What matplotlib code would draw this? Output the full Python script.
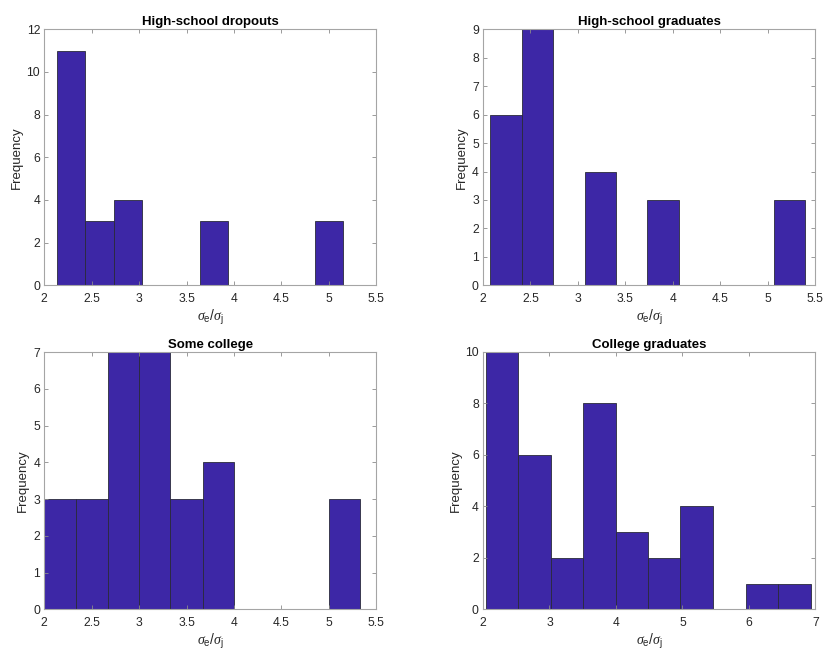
import matplotlib
matplotlib.use('Agg')
import matplotlib.pyplot as plt
from matplotlib.ticker import FuncFormatter

plt.rcParams['font.family'] = ['Liberation Sans', 'DejaVu Sans']
plt.rcParams['mathtext.fontset'] = 'custom'
plt.rcParams['mathtext.rm'] = 'Liberation Sans'
plt.rcParams['mathtext.it'] = 'Liberation Serif:italic'

# bin edges and counts per group
titles = ['High-school dropouts', 'High-school graduates', 'Some college', 'College graduates']

edges_dropouts = [2.13, 2.43, 2.73, 3.03, 3.34, 3.64, 3.94, 4.24, 4.54, 4.85, 5.15]
counts_dropouts = [11, 3, 4, 0, 0, 3, 0, 0, 0, 3]

edges_hsgrad = [2.07, 2.41, 2.74, 3.07, 3.40, 3.73, 4.06, 4.40, 4.73, 5.06, 5.39]
counts_hsgrad = [6, 9, 0, 4, 0, 3, 0, 0, 0, 3]

edges_somecol = [2.00, 2.33, 2.67, 3.00, 3.33, 3.67, 4.00, 4.33, 4.67, 5.00, 5.33]
counts_somecol = [3, 3, 7, 7, 3, 4, 0, 0, 0, 3]

edges_colgrad = [2.05, 2.53, 3.02, 3.51, 4.00, 4.49, 4.97, 5.46, 5.95, 6.44, 6.93]
counts_colgrad = [10, 6, 2, 8, 3, 2, 4, 0, 1, 1]

xlims = [(2, 5.5), (2, 5.5), (2, 5.5), (2, 7)]
ylims = [12, 9, 7, 10]
yticks = [range(0, 13, 2), range(0, 10), range(0, 8), range(0, 11, 2)]
xticks = [[2, 2.5, 3, 3.5, 4, 4.5, 5, 5.5]] * 3 + [[2, 3, 4, 5, 6, 7]]

all_edges = [edges_dropouts, edges_hsgrad, edges_somecol, edges_colgrad]
all_counts = [counts_dropouts, counts_hsgrad, counts_somecol, counts_colgrad]

W, H = 826, 654
fig = plt.figure(figsize=(W / 100, H / 100), dpi=100)

# axes boxes in pixels: left, top, right, bottom
boxes = [(44.3, 29.3, 376.3, 285.3),
         (483.0, 29.3, 815.3, 285.3),
         (44.3, 352.0, 376.3, 609.3),
         (483.0, 352.0, 815.3, 609.3)]
ylab_off = [-27, -21.3, -21.3, -27.3]  # px left of the axes

fmt = FuncFormatter(lambda v, p: '%g' % v)

for i in range(4):
    l, t, r, b = boxes[i]
    ax = fig.add_axes([l / W, 1 - b / H, (r - l) / W, (b - t) / H])
    e = all_edges[i]
    c = all_counts[i]
    widths = [e[k + 1] - e[k] for k in range(len(c))]
    ax.bar(e[:-1], c, width=widths, align='edge', color='#3d27a6',
           edgecolor='#2a2a3a', linewidth=0.6)
    ax.set_xlim(*xlims[i])
    ax.set_ylim(0, ylims[i])
    ax.set_xticks(xticks[i])
    ax.set_yticks(list(yticks[i]))
    ax.xaxis.set_major_formatter(fmt)
    ax.tick_params(direction='in', top=True, right=True, length=3, width=0.6,
                   color='#8a8a8a', labelsize=8.7, labelcolor='#262626')
    ax.tick_params(axis='x', pad=5.5)
    ax.tick_params(axis='y', pad=3)
    for s in ax.spines.values():
        s.set_color('#a5a5a5')
        s.set_linewidth(0.8)
    ax.set_title(titles[i], fontsize=9.5, fontweight='bold', pad=3)
    ax.set_ylabel('Frequency', fontsize=9.5, color='#262626', va='center')
    ax.yaxis.set_label_coords(ylab_off[i] / (r - l), 0.5)
    ax.set_xlabel(r'$\sigma_{\rm e}/\sigma_{\rm j}$', fontsize=10, color='#262626', labelpad=2)

fig.savefig('out.png', dpi=100)
